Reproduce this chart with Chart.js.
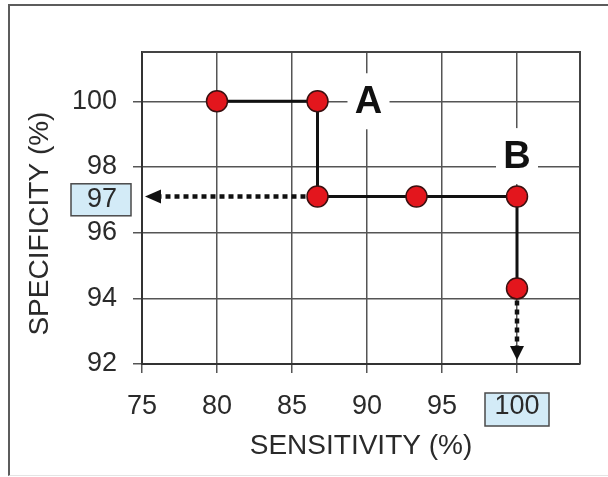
<!DOCTYPE html>
<html>
<head>
<meta charset="utf-8">
<script src="https://cdn.jsdelivr.net/npm/chart.js@4.4.0/dist/chart.umd.min.js"></script>
<style>
  html, body { margin: 0; padding: 0; background: #fff; }
  #frame {
    position: absolute; left: 8px; top: 4px; width: 620px; height: 469px;
    border-left: 2px solid #5c5c5c; border-top: 2px solid #5c5c5c; border-bottom: 1px solid #e4e4e4;
  }
  #wrap { position: absolute; left: 0; top: 0; width: 608px; height: 477px; }
</style>
</head>
<body>
<div id="frame"></div>
<div id="wrap"><canvas id="roc"></canvas></div>
<script>
// ROC-style step plot: sensitivity vs specificity
const sensitivity = [80, 86.7, 86.7, 93.3, 100, 100];
const specificity = [100, 100, 97.1, 97.1, 97.1, 94.3];

const xTicks = [75, 80, 85, 90, 95, 100];
const yTicks = [92, 94, 96, 98, 100];
const xRange = [75, 104.2];
const yRange = [92, 101.5];

// boxed axis values
const boxedX = 100;
const boxedY = 97;

// letters placed on the plot
const markLabels = ["A", "B"];
const markX = [90.1, 100];
const markY = [100, 98.33];

// dotted arrows: start point index -> axis
const arrowFromIdx = [2, 5];
const arrowDir = ["left", "down"];

const FONT = '"Liberation Sans", Arial, sans-serif';
const TEXT = "#2a2a2a";

const points = sensitivity.map((x, i) => ({ x: x, y: specificity[i] }));

const extras = {
  id: "extras",
  beforeDraw(chart) {
    const { ctx, scales } = chart;
    const xs = scales.x, ys = scales.y;
    ctx.save();
    ctx.fillStyle = "#d3ebf7";
    ctx.strokeStyle = "#4a4a4a";
    ctx.lineWidth = 1.5;
    // box behind x label 100
    const bx = xs.getPixelForValue(boxedX);
    ctx.fillRect(bx - 32, xs.top + 29, 64, 33);
    ctx.strokeRect(bx - 32, xs.top + 29, 64, 33);
    // box + text for y value 97
    const by = ys.getPixelForValue(boxedY);
    ctx.fillRect(ys.right - 71, by - 16, 60, 32);
    ctx.strokeRect(ys.right - 71, by - 16, 60, 32);
    ctx.fillStyle = TEXT;
    ctx.font = "27px " + FONT;
    ctx.textAlign = "right";
    ctx.textBaseline = "middle";
    ctx.fillText(String(boxedY), ys.right - 25, by);
    ctx.restore();
  },
  beforeDatasetsDraw(chart) {
    const { ctx, chartArea, scales } = chart;
    const xs = scales.x, ys = scales.y;
    ctx.save();
    // frame top/right
    ctx.strokeStyle = "#444";
    ctx.lineWidth = 2;
    ctx.beginPath();
    ctx.moveTo(chartArea.left, chartArea.top);
    ctx.lineTo(chartArea.right, chartArea.top);
    ctx.lineTo(chartArea.right, chartArea.bottom);
    ctx.stroke();

    // A / B with white patches
    markLabels.forEach((t, i) => {
      const px = xs.getPixelForValue(markX[i]);
      const py = ys.getPixelForValue(markY[i]);
      ctx.fillStyle = "#fff";
      ctx.fillRect(px - 21, py - 28, 42, 56);
      ctx.fillStyle = "#111";
      ctx.font = "bold 38px " + FONT;
      ctx.textAlign = "center";
      ctx.textBaseline = "middle";
      ctx.fillText(t, px, py + 1);
    });

    // dotted arrows
    ctx.strokeStyle = "#111";
    ctx.fillStyle = "#111";
    ctx.lineWidth = 4.5;
    ctx.setLineDash([5, 4]);
    arrowFromIdx.forEach((idx, i) => {
      const px = xs.getPixelForValue(sensitivity[idx]);
      const py = ys.getPixelForValue(specificity[idx]);
      ctx.setLineDash([5, 4]);
      ctx.beginPath();
      if (arrowDir[i] === "left") {
        const tip = xs.getPixelForValue(xRange[0]) + 3;
        ctx.moveTo(px - 12, py);
        ctx.lineTo(tip + 16, py);
        ctx.stroke();
        ctx.setLineDash([]);
        ctx.beginPath();
        ctx.moveTo(tip, py);
        ctx.lineTo(tip + 16, py - 7);
        ctx.lineTo(tip + 16, py + 7);
        ctx.closePath();
        ctx.fill();
      } else {
        const tip = ys.getPixelForValue(yRange[0]) - 4;
        ctx.moveTo(px, py + 12);
        ctx.lineTo(px, tip - 14);
        ctx.stroke();
        ctx.setLineDash([]);
        ctx.beginPath();
        ctx.moveTo(px, tip);
        ctx.lineTo(px - 7, tip - 14);
        ctx.lineTo(px + 7, tip - 14);
        ctx.closePath();
        ctx.fill();
      }
    });
    ctx.restore();
  },
};

new Chart(document.getElementById("roc"), {
  type: "scatter",
  data: {
    datasets: [
      {
        data: points,
        showLine: true,
        borderColor: "#111",
        borderWidth: 3,
        backgroundColor: "#e3161d",
        pointBackgroundColor: "#e3161d",
        pointBorderColor: "#3a1010",
        pointBorderWidth: 1.5,
        pointRadius: 10.5,
        pointHoverRadius: 10.5,
      },
    ],
  },
  options: {
    responsive: true,
    maintainAspectRatio: false,
    animation: false,
    layout: { padding: { left: 0, top: 52, right: 28, bottom: 0 } },
    plugins: {
      legend: { display: false },
      tooltip: { enabled: false },
    },
    scales: {
      x: {
        type: "linear",
        min: xRange[0],
        max: xRange[1],
        afterBuildTicks: (scale) => {
          scale.ticks = xTicks.map((v) => ({ value: v }));
        },
        afterFit: (scale) => {
          scale.height = 113;
        },
        grid: { color: "#555", lineWidth: 1.5, tickLength: 9 },
        border: { color: "#333", width: 2 },
        ticks: {
          font: { family: FONT, size: 27 },
          color: TEXT,
          padding: 17,
          maxRotation: 0,
        },
        title: {
          display: true,
          text: "SENSITIVITY (%)",
          font: { family: FONT, size: 28 },
          color: TEXT,
          padding: { top: 0, bottom: 14 },
        },
      },
      y: {
        type: "linear",
        min: yRange[0],
        max: yRange[1],
        afterBuildTicks: (scale) => {
          scale.ticks = yTicks.map((v) => ({ value: v }));
        },
        afterFit: (scale) => {
          scale.width = 142;
        },
        grid: { color: "#555", lineWidth: 1.5, tickLength: 9 },
        border: { color: "#333", width: 2 },
        ticks: {
          font: { family: FONT, size: 27 },
          color: TEXT,
          padding: 16,
        },
        title: {
          display: true,
          text: "SPECIFICITY (%)    ",
          font: { family: FONT, size: 28 },
          color: TEXT,
          padding: { top: 23, bottom: 0 },
        },
      },
    },
  },
  plugins: [extras],
});
</script>
</body>
</html>
